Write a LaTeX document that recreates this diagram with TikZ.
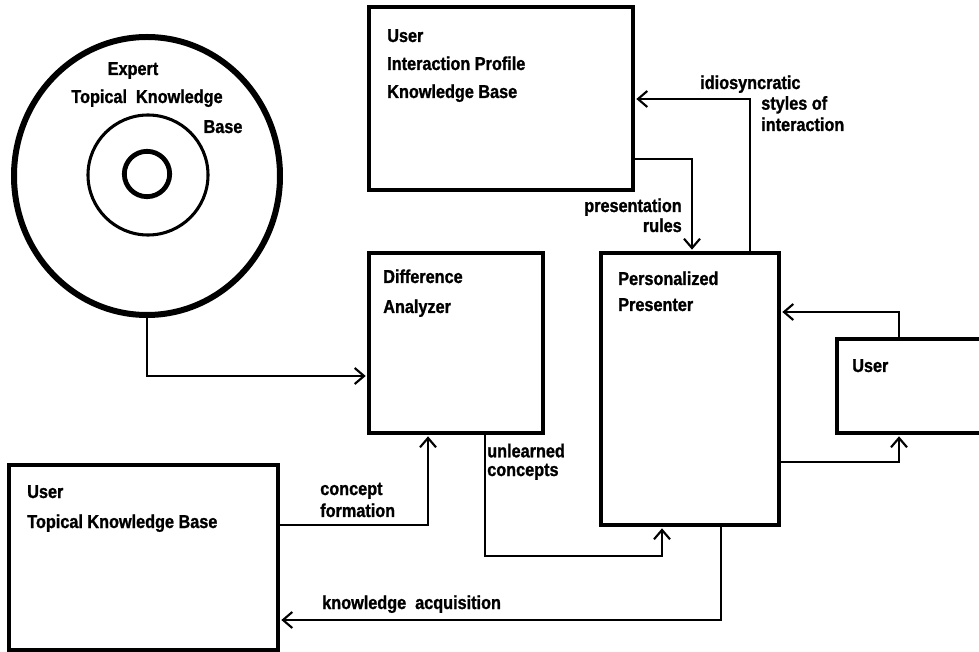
\documentclass[tikz,border=0pt]{standalone}
\usepackage{fontspec}
\newfontfamily\lab{Liberation Sans Bold}[FakeStretch=0.87,FakeBold=1.2]
\usetikzlibrary{arrows.meta,shapes.geometric}
\begin{document}
\begin{tikzpicture}[x=0.75pt,y=-0.75pt,
  box/.style={draw,line width=3pt,rectangle,inner sep=0pt},
  conn/.style={line width=2pt,-{Straight Barb[length=7pt,width=12pt,line width=1.6pt]},shorten >=1pt},
  txt/.style={inner sep=0pt,align=left,anchor=base west,font={\lab\fontsize{14}{#1}\selectfont}},
  txt/.default=21pt
]
\useasboundingbox (0,0) rectangle (979,652);
\clip (0,0) rectangle (979,652);

% Expert knowledge base (concentric circles)
\node[ellipse,draw,line width=4.5pt,minimum width=199.5pt,minimum height=208.5pt,inner sep=0pt] (expert) at (147,176) {};
\draw[line width=2.3pt] (148,175) circle [radius=45pt];
\draw[line width=3.6pt] (147,174) circle [radius=17pt];
\node[txt,anchor=base] (ex1) at (133,75) {Expert};
\node[txt,anchor=base] (ex2) at (147,103) {Topical\ \ Knowledge};
\node[txt,anchor=base] (ex3) at (223,133) {Base};

% boxes
\node[box,minimum width=198pt,minimum height=137.25pt] (uip) at (501,98.5) {};
\node[box,minimum width=130.5pt,minimum height=135pt] (da) at (456,343) {};
\node[box,minimum width=133.5pt,minimum height=204pt] (pp) at (690,389) {};
\node[box,minimum width=122.25pt,minimum height=70.5pt] (user) at (918.5,386) {};
\node[box,minimum width=201.75pt,minimum height=138.75pt] (utk) at (143.5,557.5) {};

% box texts (base = baseline of last line)
\node[txt=21pt] (uipt) at (387,98) {User\\Interaction Profile\\Knowledge Base};
\node[txt=22.5pt] (dat) at (383,313) {Difference\\Analyzer};
\node[txt=19.5pt] (ppt) at (618,311) {Personalized\\Presenter};
\node[txt] (usert) at (852,372) {User};
\node[txt=22.5pt] (utkt) at (27,528) {User\\Topical Knowledge Base};

% connectors
\coordinate (e1) at (147,376);
\draw[conn] (expert.south) -- (e1) -- (da.west |- e1);

\coordinate (c1) at (428,525);
\draw[conn] (utk.east |- c1) -- (c1) -- (da.south -| c1);

\coordinate (u1) at (485,556);
\coordinate (u2) at (662,556);
\draw[conn] (da.south -| u1) -- (u1) -- (u2) -- (pp.south -| u2);

\coordinate (p1) at (692,159);
\draw[conn] (uip.east |- p1) -- (p1) -- (pp.north -| p1);

\coordinate (i1) at (750,99);
\draw[conn] (pp.north -| i1) -- (i1) -- (uip.east |- i1);

\coordinate (s1) at (899,312);
\draw[conn] (user.north -| s1) -- (s1) -- (pp.east |- s1);

\coordinate (s2) at (899,462);
\draw[conn] (pp.east |- s2) -- (s2) -- (user.south -| s2);

\coordinate (k1) at (721,620);
\draw[conn] (pp.south -| k1) -- (k1) -- (utk.east |- k1);

% connector labels
\node[txt=15pt,anchor=base east,align=right] (lpr) at (682,232) {presentation\\rules};
\node[txt] (lid1) at (700,89) {idiosyncratic};
\node[txt=16pt] (lid2) at (761,131) {styles of\\interaction};
\node[txt=14pt] (lun) at (487,476) {unlearned\\concepts};
\node[txt=16.5pt] (lcf) at (320,517) {concept\\formation};
\node[txt] (lka) at (322,609) {knowledge\ \ acquisition};
\end{tikzpicture}
\end{document}
